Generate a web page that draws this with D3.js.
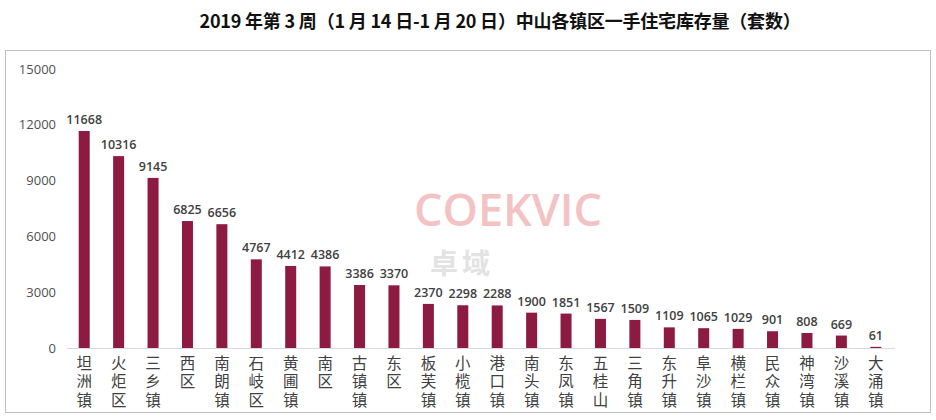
<!DOCTYPE html>
<html><head><meta charset="utf-8">
<script src="https://cdn.jsdelivr.net/npm/d3@7/dist/d3.min.js"></script>
<style>body{margin:0;background:#fff}svg{display:block}</style>
</head><body>
<svg id="c" width="936" height="420"></svg>
<script>
const categories = ["坦洲镇","火炬区","三乡镇","西区","南朗镇","石岐区","黄圃镇","南区","古镇镇","东区","板芙镇","小榄镇","港口镇","南头镇","东凤镇","五桂山","三角镇","东升镇","阜沙镇","横栏镇","民众镇","神湾镇","沙溪镇","大涌镇"];
const values = [11668,10316,9145,6825,6656,4767,4412,4386,3386,3370,2370,2298,2288,1900,1851,1567,1509,1109,1065,1029,901,808,669,61];
const yTicks = [0,3000,6000,9000,12000,15000];
const title = "2019 年第 3 周（1 月 14 日-1 月 20 日）中山各镇区一手住宅库存量（套数）";

const svg = d3.select("#c");
const font = "'Noto Sans CJK SC',sans-serif";

svg.append("rect").attr("x",5.5).attr("y",50.5).attr("width",925).attr("height",362)
  .attr("fill","#fff").attr("stroke","#bfbfbf").attr("stroke-width",1);

svg.append("text").attr("x",500).attr("y",28).attr("text-anchor","middle")
  .attr("font-family",font).attr("font-weight","bold").attr("font-size",18).attr("fill","#111")
  .attr("letter-spacing",-0.2).text(title);

// watermark
svg.append("text").attr("x",508).attr("y",226).attr("text-anchor","middle")
  .attr("font-family","'Open Sans',sans-serif").attr("font-weight",600).attr("font-size",45).attr("fill","#f3c3c3")
  .text("COEKVIC");
svg.append("text").attr("x",462).attr("y",274).attr("text-anchor","middle")
  .attr("font-family",font).attr("font-weight","bold").attr("font-size",28).attr("letter-spacing",4).attr("fill","#e3e3e3").text("卓域");

const x = d3.scaleBand().domain(categories).range([67,893]).paddingInner(0.68).paddingOuter(0.34);
const y = d3.scaleLinear().domain([0,15000]).range([348,69]);

const yAxis = svg.append("g").attr("transform","translate(62,0)")
  .call(d3.axisLeft(y).tickValues(yTicks).tickFormat(d3.format("d")).tickSize(0).tickPadding(6));
yAxis.select(".domain").remove();
yAxis.selectAll("text").attr("font-family","'Open Sans',sans-serif").attr("font-size",13).attr("fill","#505050");

svg.append("line").attr("x1",67).attr("x2",895).attr("y1",348.5).attr("y2",348.5)
  .attr("stroke","#d9d9d9").attr("stroke-width",1);

svg.append("g").selectAll("rect").data(values).join("rect")
  .attr("x",(d,i)=>x(categories[i])).attr("width",x.bandwidth())
  .attr("y",d=>y(d)).attr("height",d=>y(0)-y(d)).attr("fill","#8c1a41");

svg.append("g").selectAll("text").data(values).join("text")
  .attr("x",(d,i)=>x(categories[i])+x.bandwidth()/2).attr("y",d=>y(d)-7)
  .attr("text-anchor","middle").attr("font-family","'Open Sans',sans-serif").attr("font-weight",600)
  .attr("font-size",12.5).attr("fill","#404040").text(d=>d);

svg.append("g").selectAll("text").data(categories).join("text")
  .attr("transform",c=>`translate(${x(c)+x.bandwidth()/2},355)`)
  .attr("writing-mode","tb").style("writing-mode","vertical-rl")
  .attr("text-anchor","start").attr("letter-spacing",3)
  .attr("font-family",font).attr("font-size",15.5).attr("fill","#404040")
  .text(c=>c);
</script>
</body></html>
